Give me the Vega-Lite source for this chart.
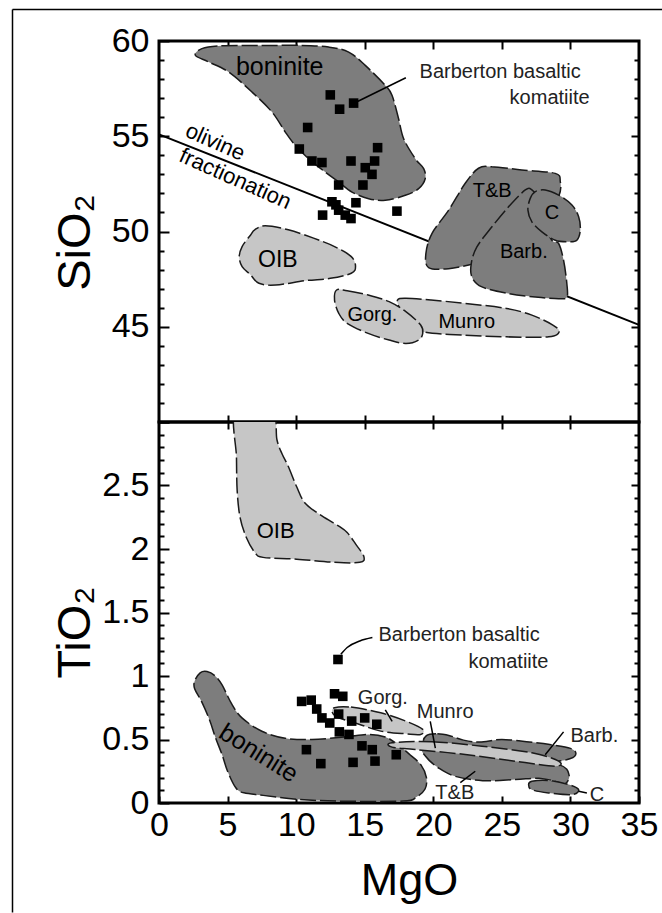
{
  "$schema": "https://vega.github.io/schema/vega-lite/v6.json",
  "padding": {"left": 10, "top": 7, "right": 0, "bottom": 0},
  "autosize": {"type": "pad"},
  "background": "white",
  "config": {
    "view": {"stroke": "black", "strokeWidth": 3},
    "axis": {"grid": false, "domain": false, "tickColor": "black", "tickWidth": 2, "labelFont": "Liberation Sans", "labelFontSize": 34, "labelColor": "black", "titleFont": "Liberation Sans", "titleColor": "black", "titleFontWeight": "normal"},
    "text": {"font": "Liberation Sans", "color": "black"}
  },
  "datasets": {
    "trend": [{"MgO": 0, "SiO2": 55.1}, {"MgO": 35, "SiO2": 45.1}],
    "ptsTop": [
      {"MgO": 12.49, "SiO2": 57.17}, {"MgO": 14.19, "SiO2": 56.74}, {"MgO": 13.17, "SiO2": 56.42}, {"MgO": 10.84, "SiO2": 55.46},
      {"MgO": 10.23, "SiO2": 54.33}, {"MgO": 15.94, "SiO2": 54.4}, {"MgO": 11.15, "SiO2": 53.7}, {"MgO": 11.88, "SiO2": 53.62},
      {"MgO": 14.0, "SiO2": 53.7}, {"MgO": 15.72, "SiO2": 53.7}, {"MgO": 15.04, "SiO2": 53.35}, {"MgO": 15.53, "SiO2": 53.0},
      {"MgO": 14.87, "SiO2": 52.44}, {"MgO": 13.1, "SiO2": 52.44}, {"MgO": 12.61, "SiO2": 51.56}, {"MgO": 14.36, "SiO2": 51.51},
      {"MgO": 17.35, "SiO2": 51.07}, {"MgO": 11.93, "SiO2": 50.86}, {"MgO": 13.1, "SiO2": 51.12}, {"MgO": 13.58, "SiO2": 50.86},
      {"MgO": 14.0, "SiO2": 50.68}, {"MgO": 12.9, "SiO2": 51.4}
    ],
    "ptsBot": [
      {"MgO": 13.05, "TiO2": 1.13}, {"MgO": 10.4, "TiO2": 0.8}, {"MgO": 11.1, "TiO2": 0.81}, {"MgO": 12.8, "TiO2": 0.86},
      {"MgO": 13.4, "TiO2": 0.84}, {"MgO": 11.5, "TiO2": 0.74}, {"MgO": 11.88, "TiO2": 0.67}, {"MgO": 12.45, "TiO2": 0.63},
      {"MgO": 13.1, "TiO2": 0.7}, {"MgO": 14.05, "TiO2": 0.645}, {"MgO": 15.0, "TiO2": 0.67}, {"MgO": 15.88, "TiO2": 0.62},
      {"MgO": 13.15, "TiO2": 0.56}, {"MgO": 13.85, "TiO2": 0.54}, {"MgO": 14.8, "TiO2": 0.45}, {"MgO": 15.55, "TiO2": 0.42},
      {"MgO": 10.75, "TiO2": 0.42}, {"MgO": 11.8, "TiO2": 0.31}, {"MgO": 14.15, "TiO2": 0.32}, {"MgO": 15.75, "TiO2": 0.33},
      {"MgO": 17.3, "TiO2": 0.38}
    ],
    "leadTop": [
      {"id": "a", "i": 0, "MgO": 14.4, "SiO2": 56.8}, {"id": "a", "i": 1, "MgO": 18.0, "SiO2": 58.07}
    ],
    "leadBot": [
      {"id": "bk", "i": 0, "MgO": 13.26, "TiO2": 1.171}, {"id": "bk", "i": 1, "MgO": 13.72, "TiO2": 1.224}, {"id": "bk", "i": 2, "MgO": 14.64, "TiO2": 1.276}, {"id": "bk", "i": 3, "MgO": 15.56, "TiO2": 1.303},
      {"id": "gorg", "i": 0, "MgO": 16.5, "TiO2": 0.734}, {"id": "gorg", "i": 1, "MgO": 17.0, "TiO2": 0.643},
      {"id": "munro", "i": 0, "MgO": 19.78, "TiO2": 0.642}, {"id": "munro", "i": 1, "MgO": 20.15, "TiO2": 0.432},
      {"id": "barb", "i": 0, "MgO": 29.5, "TiO2": 0.56}, {"id": "barb", "i": 1, "MgO": 28.16, "TiO2": 0.38},
      {"id": "tb", "i": 0, "MgO": 21.97, "TiO2": 0.16}, {"id": "tb", "i": 1, "MgO": 23.06, "TiO2": 0.25},
      {"id": "c", "i": 0, "MgO": 30.6, "TiO2": 0.092}, {"id": "c", "i": 1, "MgO": 31.2, "TiO2": 0.079}
    ],
    "polyTop": [
      {"name": "T&B", "i": 0, "MgO": 23.3, "SiO2": 53.32}, {"name": "T&B", "i": 1, "MgO": 24.28, "SiO2": 53.4}, {"name": "T&B", "i": 2, "MgO": 26.46, "SiO2": 53.23}, {"name": "T&B", "i": 3, "MgO": 28.89, "SiO2": 53.05}, {"name": "T&B", "i": 4, "MgO": 29.26, "SiO2": 52.62}, {"name": "T&B", "i": 5, "MgO": 29.14, "SiO2": 51.83}, {"name": "T&B", "i": 6, "MgO": 27.92, "SiO2": 50.25}, {"name": "T&B", "i": 7, "MgO": 25.97, "SiO2": 48.84}, {"name": "T&B", "i": 8, "MgO": 23.06, "SiO2": 48.32}, {"name": "T&B", "i": 9, "MgO": 21.12, "SiO2": 48.05}, {"name": "T&B", "i": 10, "MgO": 19.66, "SiO2": 48.11}, {"name": "T&B", "i": 11, "MgO": 19.46, "SiO2": 48.84}, {"name": "T&B", "i": 12, "MgO": 19.9, "SiO2": 49.89}, {"name": "T&B", "i": 13, "MgO": 21.12, "SiO2": 51.12}, {"name": "T&B", "i": 14, "MgO": 22.33, "SiO2": 52.53},
      {"name": "Munro", "i": 0, "MgO": 17.39, "SiO2": 46.4}, {"name": "Munro", "i": 1, "MgO": 18.0, "SiO2": 46.49}, {"name": "Munro", "i": 2, "MgO": 19.84, "SiO2": 46.4}, {"name": "Munro", "i": 3, "MgO": 22.29, "SiO2": 46.23}, {"name": "Munro", "i": 4, "MgO": 25.35, "SiO2": 45.96}, {"name": "Munro", "i": 5, "MgO": 27.19, "SiO2": 45.61}, {"name": "Munro", "i": 6, "MgO": 28.72, "SiO2": 45.09}, {"name": "Munro", "i": 7, "MgO": 29.18, "SiO2": 44.74}, {"name": "Munro", "i": 8, "MgO": 28.42, "SiO2": 44.47}, {"name": "Munro", "i": 9, "MgO": 25.35, "SiO2": 44.47}, {"name": "Munro", "i": 10, "MgO": 22.29, "SiO2": 44.56}, {"name": "Munro", "i": 11, "MgO": 19.23, "SiO2": 44.74}, {"name": "Munro", "i": 12, "MgO": 18.3, "SiO2": 45.3}, {"name": "Munro", "i": 13, "MgO": 17.6, "SiO2": 45.9},
      {"name": "boninite", "i": 0, "MgO": 2.65, "SiO2": 59.25}, {"name": "boninite", "i": 1, "MgO": 3.13, "SiO2": 59.6}, {"name": "boninite", "i": 2, "MgO": 4.35, "SiO2": 59.74}, {"name": "boninite", "i": 3, "MgO": 7.4, "SiO2": 59.76}, {"name": "boninite", "i": 4, "MgO": 10.4, "SiO2": 59.77}, {"name": "boninite", "i": 5, "MgO": 12.37, "SiO2": 59.68}, {"name": "boninite", "i": 6, "MgO": 13.83, "SiO2": 59.42}, {"name": "boninite", "i": 7, "MgO": 15.04, "SiO2": 58.72}, {"name": "boninite", "i": 8, "MgO": 16.5, "SiO2": 57.67}, {"name": "boninite", "i": 9, "MgO": 16.99, "SiO2": 57.15}, {"name": "boninite", "i": 10, "MgO": 17.47, "SiO2": 55.92}, {"name": "boninite", "i": 11, "MgO": 17.84, "SiO2": 54.87}, {"name": "boninite", "i": 12, "MgO": 18.69, "SiO2": 53.82}, {"name": "boninite", "i": 13, "MgO": 19.3, "SiO2": 53.3}, {"name": "boninite", "i": 14, "MgO": 19.41, "SiO2": 52.77}, {"name": "boninite", "i": 15, "MgO": 18.93, "SiO2": 52.25}, {"name": "boninite", "i": 16, "MgO": 17.96, "SiO2": 51.9}, {"name": "boninite", "i": 17, "MgO": 16.5, "SiO2": 51.64}, {"name": "boninite", "i": 18, "MgO": 15.29, "SiO2": 51.72}, {"name": "boninite", "i": 19, "MgO": 14.07, "SiO2": 52.07}, {"name": "boninite", "i": 20, "MgO": 13.1, "SiO2": 52.6}, {"name": "boninite", "i": 21, "MgO": 12.12, "SiO2": 53.12}, {"name": "boninite", "i": 22, "MgO": 10.91, "SiO2": 53.82}, {"name": "boninite", "i": 23, "MgO": 9.94, "SiO2": 54.52}, {"name": "boninite", "i": 24, "MgO": 9.21, "SiO2": 55.22}, {"name": "boninite", "i": 25, "MgO": 8.24, "SiO2": 56.27}, {"name": "boninite", "i": 26, "MgO": 6.78, "SiO2": 57.32}, {"name": "boninite", "i": 27, "MgO": 5.08, "SiO2": 58.37}, {"name": "boninite", "i": 28, "MgO": 3.62, "SiO2": 58.9},
      {"name": "OIB", "i": 0, "MgO": 6.98, "SiO2": 50.09}, {"name": "OIB", "i": 1, "MgO": 7.75, "SiO2": 50.3}, {"name": "OIB", "i": 2, "MgO": 9.43, "SiO2": 50.09}, {"name": "OIB", "i": 3, "MgO": 11.27, "SiO2": 49.65}, {"name": "OIB", "i": 4, "MgO": 12.8, "SiO2": 49.21}, {"name": "OIB", "i": 5, "MgO": 14.02, "SiO2": 48.68}, {"name": "OIB", "i": 6, "MgO": 14.33, "SiO2": 48.16}, {"name": "OIB", "i": 7, "MgO": 14.02, "SiO2": 47.81}, {"name": "OIB", "i": 8, "MgO": 12.49, "SiO2": 47.54}, {"name": "OIB", "i": 9, "MgO": 10.66, "SiO2": 47.42}, {"name": "OIB", "i": 10, "MgO": 8.51, "SiO2": 47.19}, {"name": "OIB", "i": 11, "MgO": 7.29, "SiO2": 47.28}, {"name": "OIB", "i": 12, "MgO": 6.68, "SiO2": 47.72}, {"name": "OIB", "i": 13, "MgO": 6.06, "SiO2": 48.16}, {"name": "OIB", "i": 14, "MgO": 5.85, "SiO2": 48.68}, {"name": "OIB", "i": 15, "MgO": 6.06, "SiO2": 49.21}, {"name": "OIB", "i": 16, "MgO": 6.68, "SiO2": 49.82},
      {"name": "Barb", "i": 0, "MgO": 26.71, "SiO2": 52.18}, {"name": "Barb", "i": 1, "MgO": 27.19, "SiO2": 52.18}, {"name": "Barb", "i": 2, "MgO": 27.68, "SiO2": 51.65}, {"name": "Barb", "i": 3, "MgO": 27.92, "SiO2": 50.6}, {"name": "Barb", "i": 4, "MgO": 28.65, "SiO2": 49.54}, {"name": "Barb", "i": 5, "MgO": 29.14, "SiO2": 49.37}, {"name": "Barb", "i": 6, "MgO": 29.5, "SiO2": 48.49}, {"name": "Barb", "i": 7, "MgO": 29.74, "SiO2": 47.26}, {"name": "Barb", "i": 8, "MgO": 29.74, "SiO2": 46.56}, {"name": "Barb", "i": 9, "MgO": 29.14, "SiO2": 46.47}, {"name": "Barb", "i": 10, "MgO": 27.44, "SiO2": 46.56}, {"name": "Barb", "i": 11, "MgO": 25.49, "SiO2": 46.74}, {"name": "Barb", "i": 12, "MgO": 23.55, "SiO2": 47.09}, {"name": "Barb", "i": 13, "MgO": 22.82, "SiO2": 47.61}, {"name": "Barb", "i": 14, "MgO": 22.77, "SiO2": 48.32}, {"name": "Barb", "i": 15, "MgO": 23.18, "SiO2": 49.19}, {"name": "Barb", "i": 16, "MgO": 24.28, "SiO2": 50.25}, {"name": "Barb", "i": 17, "MgO": 25.49, "SiO2": 51.3},
      {"name": "Gorg", "i": 0, "MgO": 12.95, "SiO2": 46.93}, {"name": "Gorg", "i": 1, "MgO": 13.72, "SiO2": 46.89}, {"name": "Gorg", "i": 2, "MgO": 15.25, "SiO2": 46.67}, {"name": "Gorg", "i": 3, "MgO": 16.78, "SiO2": 46.32}, {"name": "Gorg", "i": 4, "MgO": 18.0, "SiO2": 45.79}, {"name": "Gorg", "i": 5, "MgO": 19.08, "SiO2": 45.09}, {"name": "Gorg", "i": 6, "MgO": 19.23, "SiO2": 44.65}, {"name": "Gorg", "i": 7, "MgO": 18.92, "SiO2": 44.3}, {"name": "Gorg", "i": 8, "MgO": 18.0, "SiO2": 44.12}, {"name": "Gorg", "i": 9, "MgO": 16.78, "SiO2": 44.3}, {"name": "Gorg", "i": 10, "MgO": 15.25, "SiO2": 44.65}, {"name": "Gorg", "i": 11, "MgO": 13.72, "SiO2": 45.18}, {"name": "Gorg", "i": 12, "MgO": 13.11, "SiO2": 45.7}, {"name": "Gorg", "i": 13, "MgO": 12.8, "SiO2": 46.4},
      {"name": "C", "i": 0, "MgO": 27.44, "SiO2": 52.09}, {"name": "C", "i": 1, "MgO": 28.16, "SiO2": 52.18}, {"name": "C", "i": 2, "MgO": 29.14, "SiO2": 51.91}, {"name": "C", "i": 3, "MgO": 30.11, "SiO2": 51.39}, {"name": "C", "i": 4, "MgO": 30.6, "SiO2": 50.77}, {"name": "C", "i": 5, "MgO": 30.72, "SiO2": 50.07}, {"name": "C", "i": 6, "MgO": 30.47, "SiO2": 49.54}, {"name": "C", "i": 7, "MgO": 29.87, "SiO2": 49.46}, {"name": "C", "i": 8, "MgO": 28.89, "SiO2": 49.54}, {"name": "C", "i": 9, "MgO": 27.92, "SiO2": 49.98}, {"name": "C", "i": 10, "MgO": 27.19, "SiO2": 50.51}, {"name": "C", "i": 11, "MgO": 26.9, "SiO2": 51.12}, {"name": "C", "i": 12, "MgO": 27.07, "SiO2": 51.74}
    ],
    "polyBot": [
      {"name": "T&B", "i": 0, "MgO": 19.3, "TiO2": 0.44}, {"name": "T&B", "i": 1, "MgO": 22.0, "TiO2": 0.42}, {"name": "T&B", "i": 2, "MgO": 26.0, "TiO2": 0.36}, {"name": "T&B", "i": 3, "MgO": 29.2, "TiO2": 0.3}, {"name": "T&B", "i": 4, "MgO": 29.9, "TiO2": 0.22}, {"name": "T&B", "i": 5, "MgO": 29.6, "TiO2": 0.15}, {"name": "T&B", "i": 6, "MgO": 28.9, "TiO2": 0.17}, {"name": "T&B", "i": 7, "MgO": 27.7, "TiO2": 0.195}, {"name": "T&B", "i": 8, "MgO": 26.0, "TiO2": 0.185}, {"name": "T&B", "i": 9, "MgO": 23.6, "TiO2": 0.176}, {"name": "T&B", "i": 10, "MgO": 21.6, "TiO2": 0.21}, {"name": "T&B", "i": 11, "MgO": 20.4, "TiO2": 0.275}, {"name": "T&B", "i": 12, "MgO": 19.5, "TiO2": 0.36},
      {"name": "Barb", "i": 0, "MgO": 19.5, "TiO2": 0.53}, {"name": "Barb", "i": 1, "MgO": 20.3, "TiO2": 0.545}, {"name": "Barb", "i": 2, "MgO": 21.2, "TiO2": 0.53}, {"name": "Barb", "i": 3, "MgO": 22.2, "TiO2": 0.495}, {"name": "Barb", "i": 4, "MgO": 23.4, "TiO2": 0.48}, {"name": "Barb", "i": 5, "MgO": 25.0, "TiO2": 0.5}, {"name": "Barb", "i": 6, "MgO": 27.0, "TiO2": 0.48}, {"name": "Barb", "i": 7, "MgO": 28.5, "TiO2": 0.46}, {"name": "Barb", "i": 8, "MgO": 30.0, "TiO2": 0.43}, {"name": "Barb", "i": 9, "MgO": 30.4, "TiO2": 0.39}, {"name": "Barb", "i": 10, "MgO": 30.0, "TiO2": 0.35}, {"name": "Barb", "i": 11, "MgO": 28.8, "TiO2": 0.33}, {"name": "Barb", "i": 12, "MgO": 26.0, "TiO2": 0.36}, {"name": "Barb", "i": 13, "MgO": 22.0, "TiO2": 0.42}, {"name": "Barb", "i": 14, "MgO": 19.5, "TiO2": 0.47},
      {"name": "boninite", "i": 0, "MgO": 2.6, "TiO2": 0.96}, {"name": "boninite", "i": 1, "MgO": 3.0, "TiO2": 1.025}, {"name": "boninite", "i": 2, "MgO": 3.5, "TiO2": 1.035}, {"name": "boninite", "i": 3, "MgO": 4.1, "TiO2": 1.0}, {"name": "boninite", "i": 4, "MgO": 4.6, "TiO2": 0.93}, {"name": "boninite", "i": 5, "MgO": 5.3, "TiO2": 0.78}, {"name": "boninite", "i": 6, "MgO": 6.05, "TiO2": 0.67}, {"name": "boninite", "i": 7, "MgO": 7.5, "TiO2": 0.565}, {"name": "boninite", "i": 8, "MgO": 9.2, "TiO2": 0.51}, {"name": "boninite", "i": 9, "MgO": 11.15, "TiO2": 0.5}, {"name": "boninite", "i": 10, "MgO": 13.5, "TiO2": 0.52}, {"name": "boninite", "i": 11, "MgO": 15.3, "TiO2": 0.54}, {"name": "boninite", "i": 12, "MgO": 16.5, "TiO2": 0.52}, {"name": "boninite", "i": 13, "MgO": 17.4, "TiO2": 0.46}, {"name": "boninite", "i": 14, "MgO": 18.3, "TiO2": 0.38}, {"name": "boninite", "i": 15, "MgO": 19.1, "TiO2": 0.3}, {"name": "boninite", "i": 16, "MgO": 19.5, "TiO2": 0.2}, {"name": "boninite", "i": 17, "MgO": 19.4, "TiO2": 0.11}, {"name": "boninite", "i": 18, "MgO": 18.8, "TiO2": 0.05}, {"name": "boninite", "i": 19, "MgO": 17.8, "TiO2": 0.015}, {"name": "boninite", "i": 20, "MgO": 13.0, "TiO2": 0.015}, {"name": "boninite", "i": 21, "MgO": 10.0, "TiO2": 0.03}, {"name": "boninite", "i": 22, "MgO": 7.6, "TiO2": 0.06}, {"name": "boninite", "i": 23, "MgO": 6.2, "TiO2": 0.08}, {"name": "boninite", "i": 24, "MgO": 5.6, "TiO2": 0.12}, {"name": "boninite", "i": 25, "MgO": 5.0, "TiO2": 0.25}, {"name": "boninite", "i": 26, "MgO": 4.6, "TiO2": 0.38}, {"name": "boninite", "i": 27, "MgO": 4.1, "TiO2": 0.52}, {"name": "boninite", "i": 28, "MgO": 3.7, "TiO2": 0.65}, {"name": "boninite", "i": 29, "MgO": 3.1, "TiO2": 0.8}, {"name": "boninite", "i": 30, "MgO": 2.6, "TiO2": 0.9},
      {"name": "OIB", "i": 0, "MgO": 5.6, "TiO2": 3.1}, {"name": "OIB", "i": 1, "MgO": 8.2, "TiO2": 3.1}, {"name": "OIB", "i": 2, "MgO": 8.6, "TiO2": 2.86}, {"name": "OIB", "i": 3, "MgO": 8.97, "TiO2": 2.75}, {"name": "OIB", "i": 4, "MgO": 9.43, "TiO2": 2.65}, {"name": "OIB", "i": 5, "MgO": 10.04, "TiO2": 2.49}, {"name": "OIB", "i": 6, "MgO": 10.66, "TiO2": 2.36}, {"name": "OIB", "i": 7, "MgO": 11.88, "TiO2": 2.26}, {"name": "OIB", "i": 8, "MgO": 13.11, "TiO2": 2.18}, {"name": "OIB", "i": 9, "MgO": 13.72, "TiO2": 2.13}, {"name": "OIB", "i": 10, "MgO": 14.33, "TiO2": 2.04}, {"name": "OIB", "i": 11, "MgO": 14.94, "TiO2": 1.94}, {"name": "OIB", "i": 12, "MgO": 14.64, "TiO2": 1.895}, {"name": "OIB", "i": 13, "MgO": 12.8, "TiO2": 1.895}, {"name": "OIB", "i": 14, "MgO": 10.04, "TiO2": 1.92}, {"name": "OIB", "i": 15, "MgO": 7.59, "TiO2": 1.934}, {"name": "OIB", "i": 16, "MgO": 6.98, "TiO2": 1.974}, {"name": "OIB", "i": 17, "MgO": 6.37, "TiO2": 2.09}, {"name": "OIB", "i": 18, "MgO": 5.91, "TiO2": 2.25}, {"name": "OIB", "i": 19, "MgO": 5.7, "TiO2": 2.46}, {"name": "OIB", "i": 20, "MgO": 5.65, "TiO2": 2.72},
      {"name": "Munro", "i": 0, "MgO": 16.99, "TiO2": 0.474}, {"name": "Munro", "i": 1, "MgO": 19.9, "TiO2": 0.482}, {"name": "Munro", "i": 2, "MgO": 23.55, "TiO2": 0.447}, {"name": "Munro", "i": 3, "MgO": 27.19, "TiO2": 0.395}, {"name": "Munro", "i": 4, "MgO": 29.14, "TiO2": 0.33}, {"name": "Munro", "i": 5, "MgO": 28.89, "TiO2": 0.29}, {"name": "Munro", "i": 6, "MgO": 25.97, "TiO2": 0.329}, {"name": "Munro", "i": 7, "MgO": 22.33, "TiO2": 0.382}, {"name": "Munro", "i": 8, "MgO": 18.69, "TiO2": 0.421}, {"name": "Munro", "i": 9, "MgO": 16.99, "TiO2": 0.44},
      {"name": "Gorg", "i": 0, "MgO": 12.8, "TiO2": 0.75}, {"name": "Gorg", "i": 1, "MgO": 14.0, "TiO2": 0.755}, {"name": "Gorg", "i": 2, "MgO": 16.17, "TiO2": 0.71}, {"name": "Gorg", "i": 3, "MgO": 18.0, "TiO2": 0.645}, {"name": "Gorg", "i": 4, "MgO": 19.23, "TiO2": 0.58}, {"name": "Gorg", "i": 5, "MgO": 19.08, "TiO2": 0.54}, {"name": "Gorg", "i": 6, "MgO": 18.0, "TiO2": 0.545}, {"name": "Gorg", "i": 7, "MgO": 16.17, "TiO2": 0.566}, {"name": "Gorg", "i": 8, "MgO": 14.64, "TiO2": 0.618}, {"name": "Gorg", "i": 9, "MgO": 13.1, "TiO2": 0.671}, {"name": "Gorg", "i": 10, "MgO": 12.65, "TiO2": 0.71},
      {"name": "C", "i": 0, "MgO": 26.95, "TiO2": 0.145}, {"name": "C", "i": 1, "MgO": 27.19, "TiO2": 0.171}, {"name": "C", "i": 2, "MgO": 28.41, "TiO2": 0.177}, {"name": "C", "i": 3, "MgO": 29.87, "TiO2": 0.145}, {"name": "C", "i": 4, "MgO": 30.6, "TiO2": 0.105}, {"name": "C", "i": 5, "MgO": 30.11, "TiO2": 0.066}, {"name": "C", "i": 6, "MgO": 28.41, "TiO2": 0.079}, {"name": "C", "i": 7, "MgO": 27.19, "TiO2": 0.105}
    ],
    "labTop": [
      {"label": "boninite", "MgO": 8.8, "SiO2": 58.65},
      {"label": "Barberton basaltic", "MgO": 19.0, "SiO2": 58.35},
      {"label": "komatiite", "MgO": 31.4, "SiO2": 57.0},
      {"label": "olivine", "MgO": 4.1, "SiO2": 54.7},
      {"label": "fractionation", "MgO": 5.56, "SiO2": 52.77},
      {"label": "OIB", "MgO": 8.67, "SiO2": 48.5},
      {"label": "Gorg.", "MgO": 15.56, "SiO2": 45.6},
      {"label": "Munro", "MgO": 22.44, "SiO2": 45.26},
      {"label": "T&B", "MgO": 24.3, "SiO2": 52.1},
      {"label": "C", "MgO": 28.65, "SiO2": 50.95},
      {"label": "Barb.", "MgO": 26.6, "SiO2": 48.93}
    ],
    "labBot": [
      {"label": "OIB", "MgO": 8.51, "TiO2": 2.145},
      {"label": "boninite", "MgO": 7.27, "TiO2": 0.393},
      {"label": "Barberton basaltic", "MgO": 16.0, "TiO2": 1.325},
      {"label": "komatiite", "MgO": 28.4, "TiO2": 1.114},
      {"label": "Gorg.", "MgO": 14.5, "TiO2": 0.83},
      {"label": "Munro", "MgO": 18.8, "TiO2": 0.72},
      {"label": "Barb.", "MgO": 30.0, "TiO2": 0.525},
      {"label": "T&B", "MgO": 20.15, "TiO2": 0.079},
      {"label": "C", "MgO": 31.4, "TiO2": 0.066}
    ]
  },
  "spacing": 0,
  "bounds": "flush",
  "vconcat": [
    {
      "width": 480,
      "height": 381,
      "layer": [
        {
          "data": {"name": "ptsTop"},
          "mark": {"type": "point", "opacity": 0},
          "encoding": {
            "x": {"field": "MgO", "type": "quantitative", "scale": {"domain": [0, 35], "range": [-147, 503], "nice": false, "zero": false}, "axis": {"orient": "top", "offset": 32, "domain": true, "domainColor": "black", "domainWidth": 1.5, "ticks": false, "labels": false, "title": null}},
            "y": {"field": "SiO2", "type": "quantitative", "scale": {"domain": [40, 60], "range": [871, -32], "nice": false, "zero": false}, "axis": {"orient": "left", "offset": 147, "domain": true, "domainColor": "black", "domainWidth": 1.5, "ticks": false, "labels": false, "title": null}}
          }
        },
        {
          "data": {"name": "trend"},
          "mark": {"type": "line", "color": "black", "strokeWidth": 2},
          "encoding": {
            "x": {"field": "MgO", "type": "quantitative", "scale": {"domain": [0, 35], "nice": false, "zero": false}, "axis": {"orient": "bottom", "values": [5, 10, 15, 20, 25, 30], "tickSize": -7, "labels": false, "title": null}},
            "y": {"field": "SiO2", "type": "quantitative", "scale": {"domain": [40, 60], "nice": false, "zero": false}, "axis": {"orient": "left", "values": [40, 45, 50, 55, 60], "tickSize": -10, "labelPadding": 20, "labelExpr": "datum.value < 41 ? '' : datum.label", "title": "SiO₂", "titleFontSize": 47, "titleAngle": 270, "titleX": -70, "titleY": 201, "titleBaseline": "alphabetic", "titleAlign": "center"}}
          }
        },
        {
          "data": {"name": "polyTop"},
          "mark": {"type": "line", "interpolate": "cardinal-closed", "stroke": "#1a1a1a", "strokeWidth": 1.5, "strokeDash": [16, 4]},
          "encoding": {
            "x": {"field": "MgO", "type": "quantitative", "scale": {"domain": [0, 35], "nice": false, "zero": false}, "axis": {"orient": "top", "values": [5, 10, 15, 20, 25, 30], "tickSize": -8, "labels": false, "title": null}},
            "y": {"field": "SiO2", "type": "quantitative", "scale": {"domain": [40, 60], "nice": false, "zero": false}, "axis": {"orient": "left", "values": [41, 42, 43, 44, 46, 47, 48, 49, 51, 52, 53, 54, 56, 57, 58, 59], "tickSize": -5, "labels": false, "title": null}},
            "fill": {"field": "name", "type": "nominal", "scale": {"domain": ["boninite", "T&B", "Barb", "C", "OIB", "Gorg", "Munro"], "range": ["#7d7d7d", "#7d7d7d", "#7d7d7d", "#7d7d7d", "#c6c6c6", "#c6c6c6", "#c6c6c6"]}, "legend": null},
            "detail": {"field": "name"},
            "order": {"field": "i", "type": "quantitative"}
          }
        },
        {
          "data": {"name": "leadTop"},
          "mark": {"type": "line", "color": "black", "strokeWidth": 1.5},
          "encoding": {
            "x": {"field": "MgO", "type": "quantitative", "scale": {"domain": [0, 35], "nice": false, "zero": false}, "axis": null},
            "y": {"field": "SiO2", "type": "quantitative", "scale": {"domain": [40, 60], "nice": false, "zero": false}, "axis": {"orient": "right", "values": [45, 50, 55], "tickSize": -8, "labels": false, "title": null}},
            "detail": {"field": "id"},
            "order": {"field": "i", "type": "quantitative"}
          }
        },
        {
          "data": {"name": "ptsTop"},
          "mark": {"type": "square", "filled": true, "color": "black", "opacity": 1, "size": 92},
          "encoding": {
            "x": {"field": "MgO", "type": "quantitative", "scale": {"domain": [0, 35], "nice": false, "zero": false}, "axis": null},
            "y": {"field": "SiO2", "type": "quantitative", "scale": {"domain": [40, 60], "nice": false, "zero": false}, "axis": {"orient": "right", "values": [41, 42, 43, 44, 46, 47, 48, 49, 51, 52, 53, 54, 56, 57, 58, 59], "tickSize": -5, "labels": false, "title": null}}
          }
        },
        {
          "data": {"name": "labTop"},
          "transform": [{"filter": {"field": "label", "oneOf": ["Gorg.", "Munro", "T&B", "C", "Barb."]}}],
          "mark": {"type": "text", "fontSize": 20},
          "encoding": {
            "x": {"field": "MgO", "type": "quantitative", "scale": {"domain": [0, 35], "nice": false, "zero": false}, "axis": null},
            "y": {"field": "SiO2", "type": "quantitative", "scale": {"domain": [40, 60], "nice": false, "zero": false}, "axis": null},
            "text": {"field": "label"}
          }
        },
        {
          "data": {"name": "labTop"},
          "transform": [{"filter": {"field": "label", "equal": "OIB"}}],
          "mark": {"type": "text", "fontSize": 23},
          "encoding": {
            "x": {"field": "MgO", "type": "quantitative", "scale": {"domain": [0, 35], "nice": false, "zero": false}, "axis": null},
            "y": {"field": "SiO2", "type": "quantitative", "scale": {"domain": [40, 60], "nice": false, "zero": false}, "axis": null},
            "text": {"field": "label"}
          }
        },
        {
          "data": {"name": "labTop"},
          "transform": [{"filter": {"field": "label", "equal": "boninite"}}],
          "mark": {"type": "text", "fontSize": 25},
          "encoding": {
            "x": {"field": "MgO", "type": "quantitative", "scale": {"domain": [0, 35], "nice": false, "zero": false}, "axis": null},
            "y": {"field": "SiO2", "type": "quantitative", "scale": {"domain": [40, 60], "nice": false, "zero": false}, "axis": null},
            "text": {"field": "label"}
          }
        },
        {
          "data": {"name": "labTop"},
          "transform": [{"filter": {"field": "label", "equal": "Barberton basaltic"}}],
          "mark": {"type": "text", "fontSize": 20, "align": "left", "color": "#222"},
          "encoding": {
            "x": {"field": "MgO", "type": "quantitative", "scale": {"domain": [0, 35], "nice": false, "zero": false}, "axis": null},
            "y": {"field": "SiO2", "type": "quantitative", "scale": {"domain": [40, 60], "nice": false, "zero": false}, "axis": null},
            "text": {"field": "label"}
          }
        },
        {
          "data": {"name": "labTop"},
          "transform": [{"filter": {"field": "label", "equal": "komatiite"}}],
          "mark": {"type": "text", "fontSize": 20, "align": "right", "color": "#222"},
          "encoding": {
            "x": {"field": "MgO", "type": "quantitative", "scale": {"domain": [0, 35], "nice": false, "zero": false}, "axis": null},
            "y": {"field": "SiO2", "type": "quantitative", "scale": {"domain": [40, 60], "nice": false, "zero": false}, "axis": null},
            "text": {"field": "label"}
          }
        },
        {
          "data": {"name": "labTop"},
          "transform": [{"filter": {"field": "label", "oneOf": ["olivine", "fractionation"]}}],
          "mark": {"type": "text", "fontSize": 22, "angle": 24},
          "encoding": {
            "x": {"field": "MgO", "type": "quantitative", "scale": {"domain": [0, 35], "nice": false, "zero": false}, "axis": null},
            "y": {"field": "SiO2", "type": "quantitative", "scale": {"domain": [40, 60], "nice": false, "zero": false}, "axis": null},
            "text": {"field": "label"}
          }
        }
      ],
      "resolve": {"scale": {"x": "independent", "y": "independent"}, "axis": {"x": "independent", "y": "independent"}}
    },
    {
      "width": 480,
      "height": 381,
      "layer": [
        {
          "data": {"name": "polyBot"},
          "mark": {"type": "line", "interpolate": "cardinal-closed", "stroke": "#1a1a1a", "strokeWidth": 1.5, "strokeDash": [16, 4], "clip": true},
          "encoding": {
            "x": {"field": "MgO", "type": "quantitative", "scale": {"domain": [0, 35], "nice": false, "zero": false}, "axis": {"orient": "bottom", "values": [0, 5, 10, 15, 20, 25, 30, 35], "tickSize": -7, "labelPadding": 12, "labelFlush": false, "title": "MgO", "titleFontSize": 45, "titleX": 250, "titleY": 91, "titleBaseline": "alphabetic"}},
            "y": {"field": "TiO2", "type": "quantitative", "scale": {"domain": [0, 3], "nice": false, "zero": false}, "axis": {"orient": "left", "values": [0, 0.5, 1, 1.5, 2, 2.5, 3], "format": "~g", "tickSize": -10, "labelPadding": 20, "labelExpr": "datum.value > 2.9 ? '' : datum.label", "title": "TiO₂", "titleFontSize": 47, "titleAngle": 270, "titleX": -70, "titleY": 210, "titleBaseline": "alphabetic", "titleAlign": "center"}},
            "fill": {"field": "name", "type": "nominal", "scale": {"domain": ["boninite", "T&B", "Barb", "C", "OIB", "Gorg", "Munro"], "range": ["#7d7d7d", "#7d7d7d", "#7d7d7d", "#7d7d7d", "#c6c6c6", "#c6c6c6", "#c6c6c6"]}, "legend": null},
            "detail": {"field": "name"},
            "order": {"field": "i", "type": "quantitative"}
          }
        },
        {
          "data": {"name": "leadBot"},
          "mark": {"type": "line", "color": "black", "strokeWidth": 1.5, "interpolate": "monotone"},
          "encoding": {
            "x": {"field": "MgO", "type": "quantitative", "scale": {"domain": [0, 35], "nice": false, "zero": false}, "axis": {"orient": "top", "values": [5, 10, 15, 20, 25, 30], "tickSize": -7, "labels": false, "title": null}},
            "y": {"field": "TiO2", "type": "quantitative", "scale": {"domain": [0, 3], "nice": false, "zero": false}, "axis": {"orient": "left", "values": [0.1, 0.2, 0.3, 0.4, 0.6, 0.7, 0.8, 0.9, 1.1, 1.2, 1.3, 1.4, 1.6, 1.7, 1.8, 1.9, 2.1, 2.2, 2.3, 2.4, 2.6, 2.7, 2.8, 2.9], "tickSize": -5, "labels": false, "title": null}},
            "detail": {"field": "id"},
            "order": {"field": "i", "type": "quantitative"}
          }
        },
        {
          "data": {"name": "ptsBot"},
          "mark": {"type": "square", "filled": true, "color": "black", "opacity": 1, "size": 92},
          "encoding": {
            "x": {"field": "MgO", "type": "quantitative", "scale": {"domain": [0, 35], "nice": false, "zero": false}, "axis": null},
            "y": {"field": "TiO2", "type": "quantitative", "scale": {"domain": [0, 3], "nice": false, "zero": false}, "axis": {"orient": "right", "values": [0.5, 1, 1.5, 2, 2.5], "tickSize": -8, "labels": false, "title": null}}
          }
        },
        {
          "data": {"name": "labBot"},
          "transform": [{"filter": {"field": "label", "oneOf": ["Barberton basaltic", "Gorg.", "Munro", "Barb.", "T&B", "C"]}}],
          "mark": {"type": "text", "fontSize": 20, "align": "left", "color": "#222"},
          "encoding": {
            "x": {"field": "MgO", "type": "quantitative", "scale": {"domain": [0, 35], "nice": false, "zero": false}, "axis": null},
            "y": {"field": "TiO2", "type": "quantitative", "scale": {"domain": [0, 3], "nice": false, "zero": false}, "axis": {"orient": "right", "values": [0.1, 0.2, 0.3, 0.4, 0.6, 0.7, 0.8, 0.9, 1.1, 1.2, 1.3, 1.4, 1.6, 1.7, 1.8, 1.9, 2.1, 2.2, 2.3, 2.4, 2.6, 2.7, 2.8, 2.9], "tickSize": -5, "labels": false, "title": null}},
            "text": {"field": "label"}
          }
        },
        {
          "data": {"name": "labBot"},
          "transform": [{"filter": {"field": "label", "equal": "komatiite"}}],
          "mark": {"type": "text", "fontSize": 20, "align": "right", "color": "#222"},
          "encoding": {
            "x": {"field": "MgO", "type": "quantitative", "scale": {"domain": [0, 35], "nice": false, "zero": false}, "axis": null},
            "y": {"field": "TiO2", "type": "quantitative", "scale": {"domain": [0, 3], "nice": false, "zero": false}, "axis": null},
            "text": {"field": "label"}
          }
        },
        {
          "data": {"name": "labBot"},
          "transform": [{"filter": {"field": "label", "equal": "OIB"}}],
          "mark": {"type": "text", "fontSize": 22},
          "encoding": {
            "x": {"field": "MgO", "type": "quantitative", "scale": {"domain": [0, 35], "nice": false, "zero": false}, "axis": null},
            "y": {"field": "TiO2", "type": "quantitative", "scale": {"domain": [0, 3], "nice": false, "zero": false}, "axis": null},
            "text": {"field": "label"}
          }
        },
        {
          "data": {"name": "labBot"},
          "transform": [{"filter": {"field": "label", "equal": "boninite"}}],
          "mark": {"type": "text", "fontSize": 25, "angle": 32},
          "encoding": {
            "x": {"field": "MgO", "type": "quantitative", "scale": {"domain": [0, 35], "nice": false, "zero": false}, "axis": null},
            "y": {"field": "TiO2", "type": "quantitative", "scale": {"domain": [0, 3], "nice": false, "zero": false}, "axis": null},
            "text": {"field": "label"}
          }
        }
      ],
      "resolve": {"scale": {"x": "independent", "y": "independent"}, "axis": {"x": "independent", "y": "independent"}}
    }
  ]
}
